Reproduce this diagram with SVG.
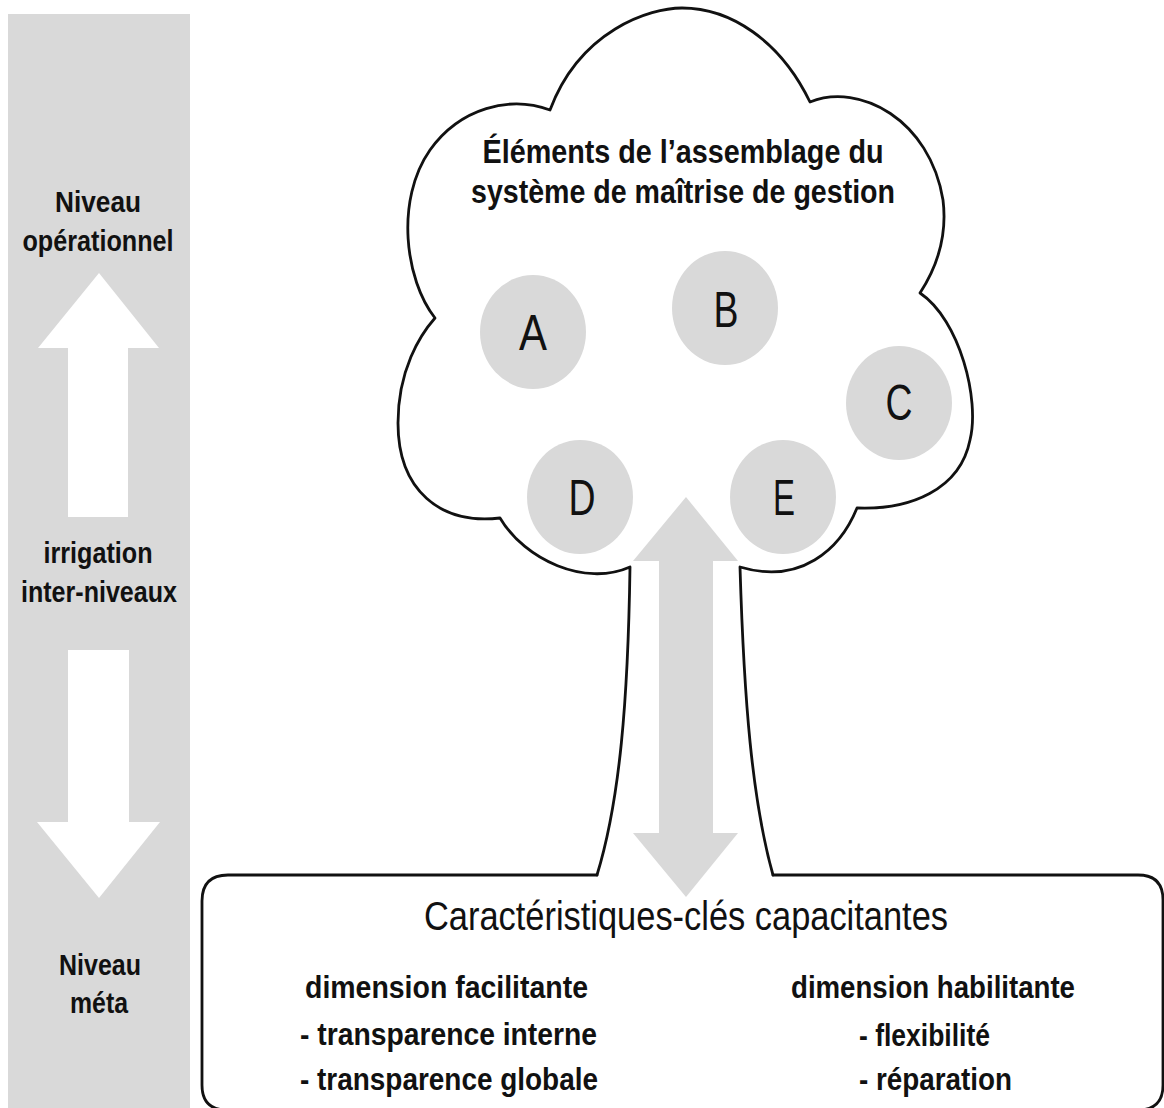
<svg xmlns="http://www.w3.org/2000/svg" width="1164" height="1108" viewBox="0 0 1164 1108">
<style>
.bar{fill:#d9d9d9}
.wa{fill:#ffffff}
.ga{fill:#d9d9d9}
.line{fill:none;stroke:#111;stroke-width:2.8;stroke-linejoin:round;stroke-linecap:round}
.cir{fill:#d9d9d9}
.lb{font-family:"Liberation Sans",Arial,sans-serif;font-weight:bold;font-size:29px;fill:#111;text-anchor:middle}
.ct{font-family:"Liberation Sans",Arial,sans-serif;font-weight:bold;font-size:34px;fill:#111;text-anchor:middle}
.let{font-family:"Liberation Sans",Arial,sans-serif;font-size:50px;fill:#111;text-anchor:middle}
.bt{font-family:"Liberation Sans",Arial,sans-serif;font-size:40px;fill:#111;text-anchor:middle}
.bs{font-family:"Liberation Sans",Arial,sans-serif;font-weight:bold;font-size:31px;fill:#111}
</style>
<g id="level-bar">
<rect class="bar" x="8" y="14" width="182" height="1094"/>
<polygon class="wa" points="99,273 159,348 128,348 128,517 68,517 68,348 38,348"/>
<polygon class="wa" points="68,650 129,650 129,822 160,822 99,898 37,822 68,822"/>
<text class="lb" x="98" y="212" textLength="86" lengthAdjust="spacingAndGlyphs">Niveau</text>
<text class="lb" x="98" y="251" textLength="151" lengthAdjust="spacingAndGlyphs">opérationnel</text>
<text class="lb" x="98" y="563" textLength="109" lengthAdjust="spacingAndGlyphs">irrigation</text>
<text class="lb" x="99" y="602" textLength="156" lengthAdjust="spacingAndGlyphs">inter-niveaux</text>
<text class="lb" x="100" y="975" textLength="82" lengthAdjust="spacingAndGlyphs">Niveau</text>
<text class="lb" x="99" y="1013" textLength="58" lengthAdjust="spacingAndGlyphs">méta</text>
</g>
<g id="tree">
<path class="line" fill="#fff" d="M597,875 C620,800 628,700 630,567 C585,587 525,560 500,518 C440,525 398,490 398,423 C398,370 420,335 435,318 C405,280 395,200 430,150 C460,108 510,95 550,110 C580,30 650,8 682,8 C730,8 780,40 810,102 C860,82 930,120 943,200 C948,240 935,270 920,293 C960,320 980,400 970,440 C960,490 910,510 857,508 C840,550 800,585 740,567 C744,700 752,800 773,875"/>
<text class="ct" x="683" y="163" textLength="401" lengthAdjust="spacingAndGlyphs">Éléments de l’assemblage du</text>
<text class="ct" x="683" y="203" textLength="424" lengthAdjust="spacingAndGlyphs">système de maîtrise de gestion</text>
</g>
<g id="node-A"><ellipse class="cir" cx="533" cy="332" rx="53" ry="57"/><text class="let" x="533" y="350" textLength="28" lengthAdjust="spacingAndGlyphs">A</text></g>
<g id="node-B"><ellipse class="cir" cx="725" cy="308" rx="53" ry="57"/><text class="let" x="726" y="327" textLength="25" lengthAdjust="spacingAndGlyphs">B</text></g>
<g id="node-C"><ellipse class="cir" cx="899" cy="403" rx="53" ry="57"/><text class="let" x="899" y="420" textLength="27" lengthAdjust="spacingAndGlyphs">C</text></g>
<g id="node-D"><ellipse class="cir" cx="580" cy="497" rx="53" ry="57"/><text class="let" x="582" y="515" textLength="27" lengthAdjust="spacingAndGlyphs">D</text></g>
<g id="node-E"><ellipse class="cir" cx="783" cy="497" rx="53" ry="57"/><text class="let" x="784" y="515" textLength="22" lengthAdjust="spacingAndGlyphs">E</text></g>
<g id="connectors">
<polygon class="ga" points="686,497 738,561 713,561 713,833 738,833 686,897 633,833 659,833 659,561 633,561"/>
</g>
<g id="box">
<path class="line" d="M597,875 H228 Q202,875 202,901 V1085 Q202,1110 227,1110 H1138 Q1163,1110 1163,1085 V900 Q1163,875 1138,875 H773"/>
<text class="bt" x="686" y="930" textLength="524" lengthAdjust="spacingAndGlyphs">Caractéristiques-clés capacitantes</text>
<text class="bs" x="305" y="998" textLength="283" lengthAdjust="spacingAndGlyphs">dimension facilitante</text>
<text class="bs" x="300" y="1045" textLength="297" lengthAdjust="spacingAndGlyphs">- transparence interne</text>
<text class="bs" x="300" y="1090" textLength="298" lengthAdjust="spacingAndGlyphs">- transparence globale</text>
<text class="bs" x="791" y="998" textLength="284" lengthAdjust="spacingAndGlyphs">dimension habilitante</text>
<text class="bs" x="859" y="1046" textLength="131" lengthAdjust="spacingAndGlyphs">- flexibilité</text>
<text class="bs" x="859" y="1090" textLength="153" lengthAdjust="spacingAndGlyphs">- réparation</text>
</g>
</svg>
